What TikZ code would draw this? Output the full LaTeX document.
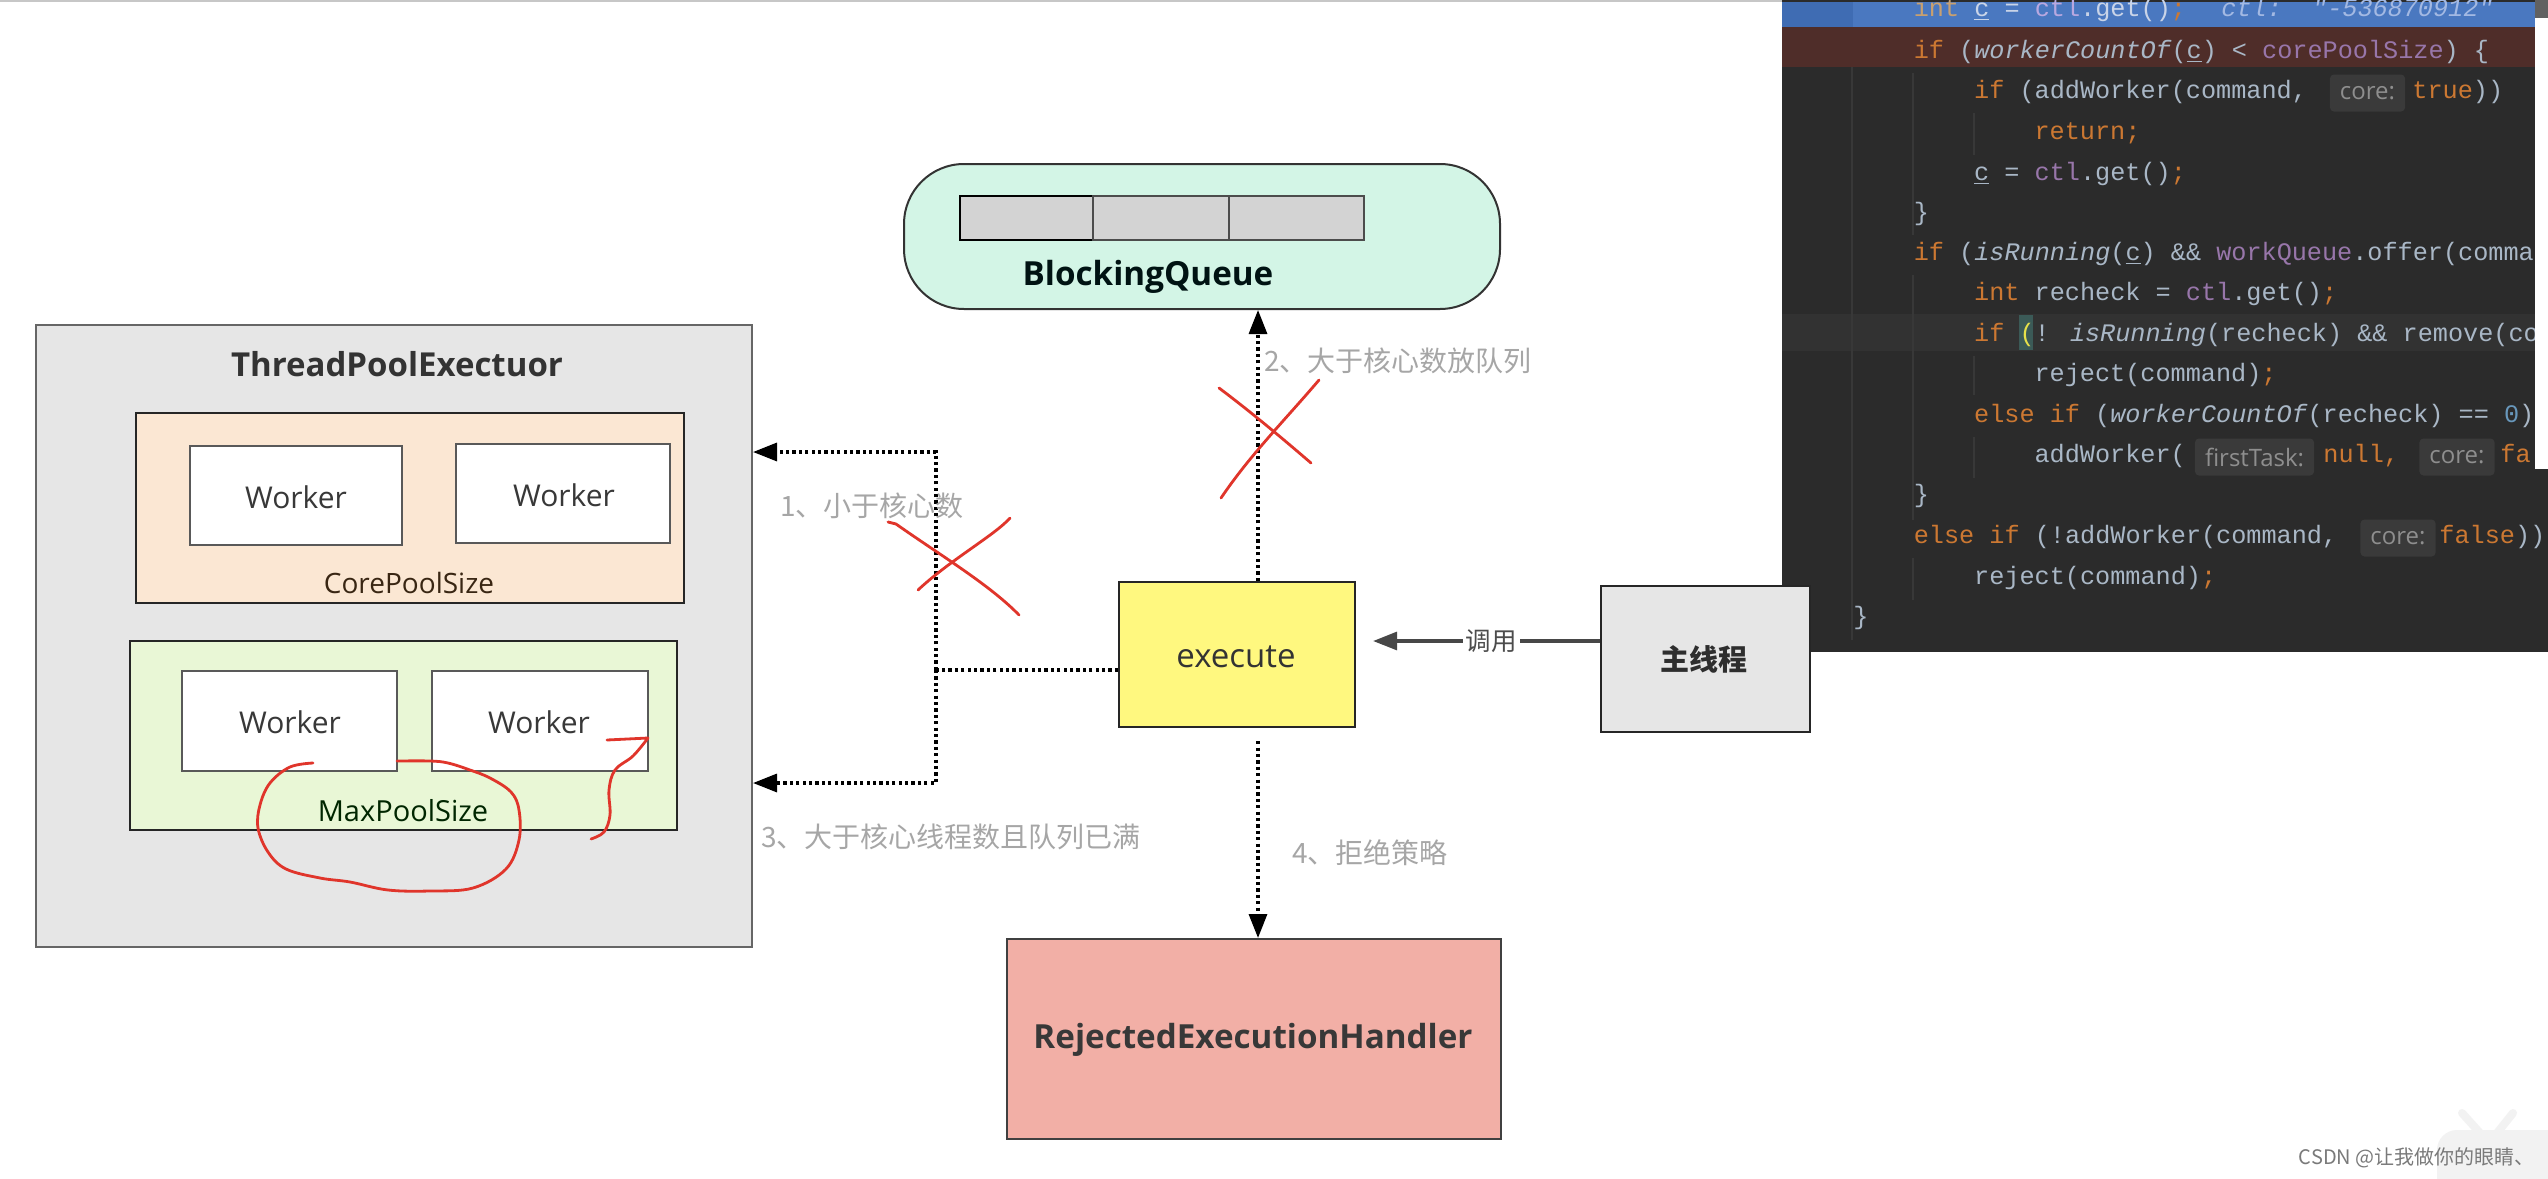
\documentclass[tikz,border=0pt]{standalone}
\usepackage{fontspec}
\setmainfont{Open Sans}
\newfontfamily\cjk{Noto Sans CJK SC}
\newfontfamily\codefont{Liberation Mono}
\usetikzlibrary{arrows.meta,fit}
\definecolor{tpgrey}{HTML}{E6E6E6}
\definecolor{corefill}{HTML}{FBE7D3}
\definecolor{maxfill}{HTML}{E9F7D6}
\definecolor{queuefill}{HTML}{D3F5E6}
\definecolor{cellfill}{HTML}{D3D3D3}
\definecolor{execfill}{HTML}{FFF87F}
\definecolor{mainfill}{HTML}{E6E6E6}
\definecolor{rejfill}{HTML}{F2AFA6}
\definecolor{labelgrey}{HTML}{A6A6A6}
\definecolor{penred}{HTML}{E0352B}
\definecolor{codebg}{HTML}{2B2B2B}
\definecolor{bluerow}{HTML}{4A78C0}
\definecolor{bluegut}{HTML}{3F6CB3}
\definecolor{redrow}{HTML}{4F2D29}
\definecolor{caretrow}{HTML}{323232}
\definecolor{caretbox}{HTML}{3B5A57}
\definecolor{codetxt}{HTML}{A9B7C6}
\definecolor{kwc}{HTML}{CC7832}
\definecolor{fldc}{HTML}{9876AA}
\definecolor{numc}{HTML}{6897BB}
\definecolor{hintbg}{HTML}{3A3A3A}
\definecolor{hintfg}{HTML}{8E8E8E}
\definecolor{rowtxt}{HTML}{C9D4E8}
\definecolor{kwfade}{HTML}{C8A070}
\definecolor{fldfade}{HTML}{B8A8E0}
\definecolor{dbgval}{HTML}{A3B9E3}
\definecolor{parenhl}{HTML}{E6E04A}
\definecolor{guide}{HTML}{383838}
\newcommand\kw[1]{\textcolor{kwc}{#1}}
\newcommand\fl[1]{\textcolor{fldc}{#1}}
\begin{document}
\begin{tikzpicture}[x=0.5pt,y=-0.5pt,
  every node/.style={inner sep=0pt},
  outerbox/.style={draw=black!60, line width=1pt, fill=tpgrey},
  poolbox/.style={draw=black!85, line width=1.1pt},
  workerbox/.style={draw=black!65, line width=0.9pt, fill=white},
  workertext/.style={text=black!78, font=\fontsize{15}{18}\selectfont},
  flowline/.style={line width=1.6pt, dash pattern=on 1.6pt off 1.6pt},
  flowarrow/.style={flowline, -{Triangle[length=12pt,width=9pt]}},
  callarrow/.style={draw=black!72, line width=1.6pt, -{Triangle[length=12pt,width=9pt]}},
  steplabel/.style={font=\cjk\fontsize{14}{16}\selectfont, text=labelgrey},
  redpen/.style={draw=penred, line width=1.4pt, line cap=round, line join=round},
  codeln/.style={anchor=mid west, text=codetxt, font=\codefont\fontsize{12.6}{15}\selectfont},
  hintbox/.style={fill=hintbg, rounded corners=2pt, inner xsep=5pt, minimum height=18.5pt, text=hintfg, font=\fontsize{12}{14}\selectfont},
]
\useasboundingbox (0,0) rectangle (2548,1178);
\fill[white] (0,0) rectangle (2548,1178);
\draw[black!22, line width=1pt] (0,1) -- (1782,1);

% ---------- ThreadPoolExecutor ----------
\node[outerbox, fit={(36,325) (752,947)}] (tpe) {};
\node[font=\bfseries\fontsize{16.5}{20}\selectfont, text=black!80] (tpetitle) at (397,364) {ThreadPoolExectuor};
\node[poolbox, fill=corefill, fit={(136,413) (684,603)}] (core) {};
\node[workerbox, fit={(190,446) (402,545)}] (w1) {};
\node[workertext] (w1t) at (296,497) {Worker};
\node[workerbox, fit={(456,444) (670,543)}] (w2) {};
\node[workertext] (w2t) at (564,495) {Worker};
\node[font=\fontsize{14}{16}\selectfont, text=black!70!brown] (corelbl) at (409,583) {CorePoolSize};
\node[poolbox, fill=maxfill, fit={(130,641) (677,830)}] (maxp) {};
\node[workerbox, fit={(182,671) (397,771)}] (w3) {};
\node[workertext] (w3t) at (290,722) {Worker};
\node[workerbox, fit={(432,671) (648,771)}] (w4) {};
\node[workertext] (w4t) at (539,722) {Worker};
\node[font=\fontsize{14.5}{16}\selectfont, text=black!75!green!60!black] (maxlbl) at (403,811) {MaxPoolSize};

% ---------- BlockingQueue ----------
\node[draw=black!80, line width=1pt, fill=queuefill, rounded corners=30pt, fit={(904,164) (1500,309)}] (queue) {};
\node[draw=black, line width=1.3pt, fill=cellfill, fit={(960,196) (1093,240)}] (cell1) {};
\node[draw=black!70, line width=1pt, fill=cellfill, fit={(1093,196) (1229,240)}] (cell2) {};
\node[draw=black!70, line width=1pt, fill=cellfill, fit={(1229,196) (1364,240)}] (cell3) {};
\node[font=\bfseries\fontsize{16.6}{20}\selectfont, text=black!75!teal!60!black] (qlbl) at (1148,277) {BlockingQueue};

% ---------- code panel ----------
\begin{scope}
\clip (1782,0) rectangle (2548,652);
\fill[codebg] (1782,0) rectangle (2548,652);
\fill[bluerow] (1782,2) rectangle (2535,27);
\fill[bluegut] (1782,2) rectangle (1853,27);
\fill[redrow] (1782,27) rectangle (2535,67);
\fill[caretrow] (1782,314) rectangle (2548,351);
\fill[caretbox] (2019,315) rectangle (2033,350);
\draw[guide, line width=0.6pt] (1852,67) -- (1852,640);
\draw[guide, line width=0.6pt] (1913,73) -- (1913,235) (1913,275) -- (1913,520) (1913,558) -- (1913,600);
\draw[guide, line width=0.6pt] (1974,113) -- (1974,155) (1974,356) -- (1974,395) (1974,437) -- (1974,478);
\node[codeln, text=rowtxt] (c1) at (1913.4,11) {\textcolor{kwfade}{int} \underline{c} = \textcolor{fldfade}{ctl}.get()\kw{;}};
\node[codeln, text=dbgval, font=\codefont\itshape\fontsize{12.6}{15}\selectfont] (c1v) at (2221,11) {ctl:\ \ "-536870912"};
\node[codeln] (c2) at (1913.4,53) {\kw{if} (\textit{workerCountOf}(\underline{c}) < \fl{corePoolSize}) \{};
\node[codeln] (c3) at (1973.8,93) {\kw{if} (addWorker(command,};
\node[hintbox] (h3) at (2367.5,93) {core:};
\node[codeln] (c3b) at (2412,93) {\kw{true}))};
\node[codeln] (c4) at (2034.2,134) {\kw{return;}};
\node[codeln] (c5) at (1973.8,175) {\underline{c} = \fl{ctl}.get()\kw{;}};
\node[codeln] (c6) at (1913.4,215) {\}};
\node[codeln] (c7) at (1913.4,255) {\kw{if} (\textit{isRunning}(\underline{c}) \&\& \fl{workQueue}.offer(comma};
\node[codeln] (c8) at (1973.8,295) {\kw{int} recheck = \fl{ctl}.get()\kw{;}};
\node[codeln] (c9) at (1973.8,336) {\kw{if} \textcolor{parenhl}{(}! \textit{isRunning}(recheck) \&\& remove(co};
\node[codeln] (c10) at (2034.2,376) {reject(command)\kw{;}};
\node[codeln] (c11) at (1973.8,417) {\kw{else if} (\textit{workerCountOf}(recheck) == \textcolor{numc}{0})};
\node[codeln] (c12) at (2034.2,457) {addWorker(};
\node[hintbox] (h12a) at (2254.5,457) {firstTask:};
\node[codeln] (c12b) at (2323,457) {\kw{null,}};
\node[hintbox] (h12b) at (2457,457) {core:};
\node[codeln] (c12c) at (2500,457) {\kw{fa}};
\node[codeln] (c13) at (1913.4,497) {\}};
\node[codeln] (c14) at (1913.4,538) {\kw{else if} (!addWorker(command,};
\node[hintbox] (h14) at (2398,538) {core:};
\node[codeln] (c14b) at (2439,538) {\kw{false}))};
\node[codeln] (c15) at (1973.8,579) {reject(command)\kw{;}};
\node[codeln] (c16) at (1853,619) {\}};
\end{scope}
\fill[white] (2535,18) rectangle (2548,469);
\fill[black!62] (2535,0) rectangle (2548,18);

% ---------- execute / main / rejected ----------
\node[draw=black!85, line width=1.1pt, fill=execfill, fit={(1119,582) (1355,727)}] (exec) {};
\node[font=\fontsize{16.5}{20}\selectfont, text=black!80] (exect) at (1236,657) {execute};
\node[draw=black!85, line width=1.1pt, fill=mainfill, fit={(1601,586) (1810,732)}] (main) {};
\node[font=\cjk\bfseries\fontsize{14.5}{18}\selectfont, text=black!82] (maint) at (1704,659) {主线程};
\node[draw=black!75, line width=1pt, fill=rejfill, fit={(1007,939) (1501,1139)}] (rej) {};
\node[font=\bfseries\fontsize{16.6}{20}\selectfont, text=black!78] (rejt) at (1253,1040) {RejectedExecutionHandler};

% ---------- connectors ----------
\draw[callarrow] ([yshift=9pt]main.west) -- ([xshift=8.5pt,yshift=6.75pt]exec.east)
  node[pos=0.48, fill=white, inner xsep=1.5pt, inner ysep=2pt, font=\cjk\fontsize{12.75}{15}\selectfont, text=black!70] (calllbl) {调用};
\coordinate (jn) at (936,670);
\coordinate (jt) at (936,452);
\coordinate (jb) at (936,783);
\draw[flowline] ([yshift=-7.75pt]exec.west) -- (jn);
\draw[flowarrow] (jn) -- (jt) -- (jt -| tpe.east);
\draw[flowarrow] (jn) -- (jb) -- (jb -| tpe.east);
\draw[flowarrow] ([xshift=10.5pt]exec.north) -- ([xshift=10.5pt]exec.north |- queue.south);
\draw[flowarrow] ([xshift=10.5pt,yshift=-6.5pt]exec.south) -- ([xshift=10.5pt]exec.south |- rej.north);

% ---------- labels ----------
\node[steplabel] (l1) at (872,506) {1、小于核心数};
\node[steplabel, anchor=west] (l2) at (1264,361) {2、大于核心数放队列};
\node[steplabel] (l3) at (951,837) {3、大于核心线程数且队列已满};
\node[steplabel] (l4) at (1370,853) {4、拒绝策略};

% ---------- red pen marks ----------
\draw[redpen] (1219,388) .. controls (1255,415) and (1290,445) .. (1311,463);
\draw[redpen] (1319,380) .. controls (1285,420) and (1250,455) .. (1221,498);
\draw[redpen] (888,522) -- (896,524) .. controls (940,555) and (990,585) .. (1019,615);
\draw[redpen] (1010,518) .. controls (995,535) and (950,560) .. (918,590);
\draw[redpen] plot[smooth, tension=0.6] coordinates {(313,763) (290,767) (270,783) (260,805) (258,828) (268,852) (286,869) (320,878) (350,882) (388,890) (430,891) (473,888) (506,869) (519,840) (519,810) (511,792) (490,778) (470,770) (448,763) (430,761) (397,761)};
\draw[redpen] (607,740) -- (648,738) -- plot[smooth, tension=0.6] coordinates {(648,738) (633,756) (615,770) (609,790) (610,815) (604,832) (591,839)};

% ---------- watermark ----------
\fill[black!5] (2437,1130) [rounded corners=10pt] rectangle (2570,1200);
\draw[black!5, line width=4pt, line cap=round] (2462,1113) -- (2480,1133);
\draw[black!5, line width=4pt, line cap=round] (2513,1113) -- (2497,1133);
\node[anchor=east, font=\cjk\fontsize{10}{12}\selectfont, text=black!52] (wm) at (2535,1158) {CSDN @让我做你的眼睛、};
\end{tikzpicture}
\end{document}
